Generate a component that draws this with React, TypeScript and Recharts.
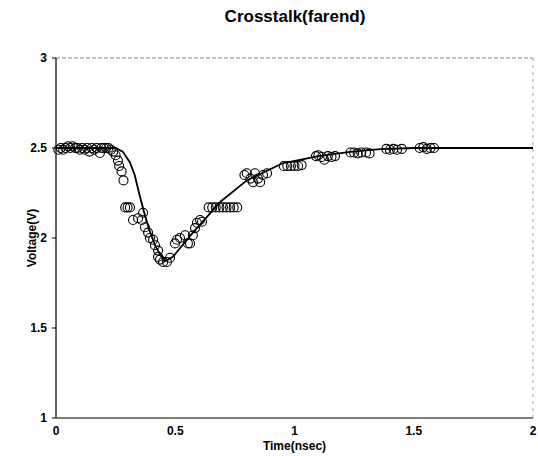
import {
  ComposedChart,
  Line,
  Scatter,
  XAxis,
  YAxis,
  ReferenceLine,
} from "recharts";

// simulated waveform (solid line)
const simTime = [0, 0.1, 0.2, 0.25, 0.28, 0.31, 0.33, 0.35, 0.37, 0.39, 0.415, 0.44, 0.457, 0.49, 0.53, 0.574, 0.633, 0.688, 0.8, 0.95, 1.1, 1.233, 1.36, 1.5, 2.0];
const simVolt = [2.5, 2.5, 2.5, 2.5, 2.48, 2.42, 2.35, 2.24, 2.14, 2.05, 1.96, 1.9, 1.87, 1.895, 1.96, 2.03, 2.117, 2.2, 2.32, 2.415, 2.455, 2.478, 2.494, 2.5, 2.5];

// measured samples (open circles)
const measTime = [
  0.01, 0.02, 0.03, 0.04, 0.05, 0.06, 0.07, 0.08, 0.09, 0.1, 0.11, 0.12, 0.13, 0.14, 0.15, 0.16, 0.17, 0.184, 0.19, 0.2, 0.21, 0.22, 0.23, 0.24,
  0.25, 0.26, 0.265, 0.275, 0.283,
  0.29, 0.3, 0.31,
  0.323, 0.344, 0.36, 0.365, 0.373, 0.386, 0.394, 0.407, 0.415, 0.428, 0.428, 0.436, 0.449, 0.465, 0.478,
  0.499, 0.507, 0.52, 0.541, 0.553, 0.562, 0.574, 0.583, 0.591, 0.604, 0.612,
  0.64, 0.655, 0.67, 0.685, 0.7, 0.715, 0.73, 0.745, 0.76,
  0.79, 0.8, 0.815, 0.826, 0.834, 0.847, 0.856, 0.868, 0.885,
  0.955, 0.97, 0.985, 1.0, 1.015, 1.03,
  1.09, 1.1, 1.115, 1.125, 1.14, 1.155, 1.17,
  1.235, 1.25, 1.265, 1.28, 1.3, 1.315,
  1.385, 1.4, 1.415, 1.43, 1.45,
  1.525, 1.54, 1.555, 1.57, 1.585,
];
const measVolt = [
  2.49, 2.5, 2.49, 2.5, 2.51, 2.5, 2.51, 2.5, 2.5, 2.49, 2.5, 2.49, 2.5, 2.48, 2.5, 2.49, 2.5, 2.472, 2.5, 2.5, 2.5, 2.5, 2.49, 2.48,
  2.46, 2.43, 2.4, 2.37, 2.32,
  2.17, 2.17, 2.17,
  2.1, 2.11, 2.1, 2.14, 2.06, 2.03, 2.0, 1.99, 1.96, 1.93, 1.895, 1.88, 1.867, 1.867, 1.89,
  1.97, 1.99, 2.0, 2.015, 1.97, 1.97, 2.015, 2.055, 2.085, 2.1, 2.09,
  2.17, 2.17, 2.17, 2.17, 2.17, 2.17, 2.17, 2.17, 2.17,
  2.35, 2.36, 2.33, 2.31, 2.36, 2.33, 2.31, 2.35, 2.36,
  2.4, 2.4, 2.4, 2.4, 2.4, 2.405,
  2.455, 2.46, 2.45, 2.435, 2.455, 2.45, 2.455,
  2.475, 2.475, 2.47, 2.475, 2.475, 2.47,
  2.495, 2.49, 2.495, 2.49, 2.495,
  2.5, 2.505, 2.495, 2.5, 2.5,
];

const xTicks = [0, 0.5, 1, 1.5, 2];
const yTicks = [1, 1.5, 2, 2.5, 3];

const simData = simTime.map((t, i) => ({ t, v: simVolt[i] }));
const measData = measTime.map((t, i) => ({ t, v: measVolt[i] }));

const tickStyle = { fontSize: 12, fontWeight: 700, fill: "#000", fontFamily: "Liberation Sans" };

const OpenCircle = (props: any) => (
  <circle cx={props.cx} cy={props.cy} r={4.5} fill="none" stroke="#000" strokeWidth={1.1} />
);

export default function App() {
  return (
    <div style={{ position: "relative", width: 538, height: 456, fontFamily: "Liberation Sans" }}>
      {/* drop the default body margin so the chart can use the whole window */}
      <style>{"body{margin:0}"}</style>
      <div
        style={{
          position: "absolute",
          top: 7,
          left: 0,
          width: 590,
          textAlign: "center",
          fontSize: 17,
          fontWeight: 700,
          lineHeight: "20px",
        }}
      >
        Crosstalk(farend)
      </div>
      <ComposedChart width={538} height={456} margin={{ top: 58, right: 5, bottom: 0, left: 0 }}>
        <XAxis
          type="number"
          dataKey="t"
          domain={[0, 2]}
          ticks={xTicks}
          interval={0}
          height={38}
          tickLine={false}
          tickSize={4}
          tickMargin={4}
          tick={tickStyle}
          axisLine={{ stroke: "#000", strokeWidth: 1.2 }}
          label={{ value: "Time(nsec)", position: "insideBottom", offset: 6, style: { fontSize: 12, fontWeight: 700, fill: "#000" } }}
        />
        <YAxis
          type="number"
          dataKey="v"
          domain={[1, 3]}
          ticks={yTicks}
          interval={0}
          width={56}
          tickSize={4}
          tickMargin={5}
          tick={tickStyle}
          tickLine={{ stroke: "#000" }}
          axisLine={{ stroke: "#000", strokeWidth: 1.2 }}
          label={{ value: "Voltage(V)", angle: -90, position: "insideLeft", offset: 32, style: { fontSize: 12, fontWeight: 700, fill: "#000", textAnchor: "middle" } }}
        />
        <ReferenceLine y={3} stroke="#666" strokeDasharray="4 2" strokeWidth={0.8} ifOverflow="visible" />
        <ReferenceLine x={2} stroke="#888" strokeDasharray="3 4" strokeWidth={0.8} ifOverflow="visible" />
        <Line
          data={simData}
          dataKey="v"
          type="linear"
          stroke="#000"
          strokeWidth={1.8}
          dot={false}
          isAnimationActive={false}
        />
        <Scatter data={measData} dataKey="v" shape={OpenCircle} isAnimationActive={false} />
      </ComposedChart>
    </div>
  );
}
